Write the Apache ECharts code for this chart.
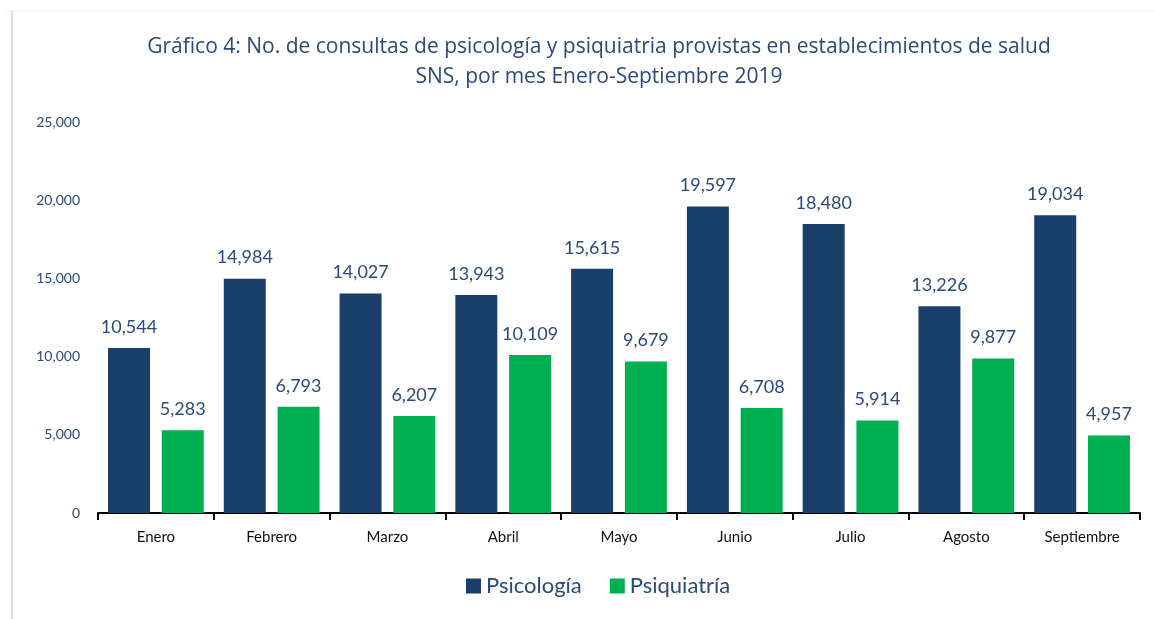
<!DOCTYPE html>
<html><head><meta charset="utf-8">
<script src="https://cdn.jsdelivr.net/npm/echarts@6/dist/echarts.min.js"></script>
<style>html,body{margin:0;padding:0;background:#fff}#c{width:1154px;height:619px}</style>
</head><body><div id="c"></div>
<script>
const categories = ['Enero','Febrero','Marzo','Abril','Mayo','Junio','Julio','Agosto','Septiembre'];
const psicologia = [10544,14984,14027,13943,15615,19597,18480,13226,19034];
const psiquiatria = [5283,6793,6207,10109,9679,6708,5914,9877,4957];
const yTicks = [0,5000,10000,15000,20000,25000];

const font = 'Lato, "Open Sans", sans-serif';
const txt = '#2A4A7A';
const fmt = v => v.toLocaleString('en-US');
const chart = echarts.init(document.getElementById('c'));
chart.setOption({
  animation:false,
  backgroundColor:'#fff',
  title:{
    text:'Gráfico 4: No. de consultas de psicología y psiquiatria provistas en establecimientos de salud\nSNS, por mes Enero-Septiembre 2019',
    left:594, textAlign:'center', top:27,
    textStyle:{color:txt, fontFamily:'"Open Sans", sans-serif', fontSize:21, fontWeight:'normal', lineHeight:30}
  },
  legend:{
    bottom:17, left:461, itemWidth:15, itemHeight:15, itemGap:28,
    icon:'rect',
    textStyle:{color:txt, fontFamily:font, fontSize:22}
  },
  grid:{left:98, right:14, top:122, bottom:106},
  xAxis:{
    type:'category', data:categories,
    axisLine:{lineStyle:{color:'#000', width:2}},
    axisTick:{show:true, length:7, lineStyle:{color:'#000', width:2}},
    axisLabel:{color:'#111', fontFamily:font, fontSize:15, margin:17}
  },
  yAxis:{
    type:'value', min:yTicks[0], max:yTicks[yTicks.length-1], interval:5000,
    axisLine:{show:false}, axisTick:{show:false}, splitLine:{show:false},
    axisLabel:{color:txt, fontFamily:font, fontSize:14, margin:18, formatter:v=>fmt(v)}
  },
  series:[
    {name:'Psicología', type:'bar', data:psicologia, barWidth:42, barGap:'28%',
     itemStyle:{color:'#1B3F6B'},
     label:{show:true, position:'top', distance:12, color:txt, fontFamily:font, fontSize:18, formatter:p=>fmt(p.value)}},
    {name:'Psiquiatría', type:'bar', data:psiquiatria, barWidth:42,
     itemStyle:{color:'#00B050'},
     label:{show:true, position:'top', distance:12, color:txt, fontFamily:font, fontSize:18, formatter:p=>fmt(p.value)}}
  ],
  graphic:[
    {type:'line', shape:{x1:5,y1:11,x2:1154,y2:11}, style:{stroke:'#eef2f7', lineWidth:1}},
    {type:'line', shape:{x1:12,y1:11,x2:12,y2:619}, style:{stroke:'#d6e0ee', lineWidth:2}}
  ]
});
</script></body></html>
